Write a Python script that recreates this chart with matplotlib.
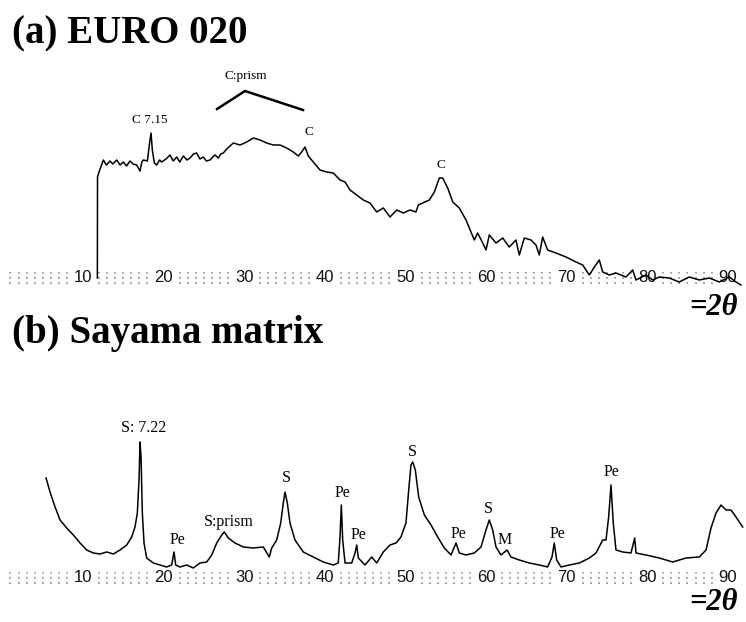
import matplotlib
matplotlib.use("Agg")
import matplotlib.pyplot as plt

# ---- panel (a): EURO 020, 2theta (deg) and intensity (a.u.)
euro_2theta = [11.78, 11.80, 11.90, 12.52, 12.9, 13.35, 13.7, 14.18, 14.6, 15.0,
               15.4, 15.83, 16.2, 16.66, 17.07, 17.3, 17.48, 17.98, 18.31, 18.44,
               18.6, 18.85, 19.14, 19.5, 19.76, 20.3, 20.79, 21.2, 21.62, 22.0,
               22.45, 22.9, 23.28, 23.7, 24.1, 24.5, 24.93, 25.3, 25.76, 26.1,
               26.38, 26.79, 27.1, 27.41, 27.83,
               28.65, 29.48, 30.31, 31.13, 31.96, 32.79, 33.61, 34.44, 35.27, 36.09,
               36.71, 37.13, 37.54, 37.95, 38.57, 39.4, 40.23, 41.05, 41.89, 42.51,
               43.13, 43.96, 44.78, 45.61, 46.44, 47.26, 48.09, 48.92, 49.74, 50.57,
               51.31, 51.6, 52.15, 52.97, 53.59, 54.21, 54.63, 55.25, 55.87, 56.69,
               57.52, 58.14, 58.55, 58.97, 59.59, 60.0, 60.41, 61.24, 62.07, 62.89,
               63.72, 64.13, 64.75, 65.58, 66.2, 66.61, 67.03, 67.65, 68.68, 69.93,
               71.17, 72.0, 72.82, 73.44, 74.06, 74.48, 75.3, 76.13, 77.37, 78.2,
               78.61, 79.85, 80.68, 81.5, 82.74, 83.98, 85.22, 86.46, 87.7, 88.95,
               90.19, 91.02, 91.64]
euro_int = [0, 101, 104, 118, 113, 117, 114, 118, 113, 116,
            112, 117, 114, 113, 107, 116, 118, 117, 138, 145,
            128, 115, 113, 118, 116, 119, 123, 117, 121, 116,
            122, 118, 120, 124, 125, 119, 121, 117, 118, 121,
            123, 120, 124, 125, 129,
            135, 133, 136, 140, 138, 135, 133, 133, 130, 126,
            122, 126, 131, 122, 116, 108, 106, 105, 98, 96,
            88, 83, 78, 75, 66, 70, 61, 68, 65, 68,
            66, 73, 75, 78, 86, 100, 100, 90, 76, 70,
            58, 46, 38, 45, 35, 28, 43, 35, 40, 31,
            38, 23, 40, 38, 33, 23, 41, 28, 25, 21,
            16, 13, 3, 11, 18, 6, 3, 5, 1, 8,
            -2, 3, -2, 1, 0, -4, 1, -2, 0, -4,
            1, -4, -7]

# ---- panel (b): Sayama matrix
sayama_2theta = [5.41, 5.91, 6.53, 7.15, 7.98, 8.80, 9.63, 10.46, 11.28, 12.11,
                 12.94, 13.76, 14.59, 15.42, 16.04, 16.45, 16.74, 16.95, 17.07, 17.20,
                 17.36, 17.57, 17.90, 18.72, 19.55, 20.38, 21.0, 21.29, 21.50, 22.03,
                 22.87, 23.68, 24.52, 25.35, 25.97, 26.59, 27.21, 27.53, 28.03, 28.86,
                 29.89, 31.13, 32.37, 33.11, 33.41, 34.03, 34.53, 34.85, 35.06, 35.35,
                 35.68, 36.30, 37.33, 38.57, 39.81, 41.05, 41.67, 41.89, 42.05, 42.22,
                 42.51, 43.34, 43.75, 43.96, 44.16, 44.99, 45.82, 46.44, 47.26, 48.09,
                 48.83, 49.45, 50.07, 50.41, 50.69, 50.91, 51.23, 51.65, 52.35, 53.18,
                 54.01, 54.83, 55.66, 56.28, 56.69, 57.52, 58.55, 59.38, 60.0, 60.41,
                 60.83, 61.24, 61.86, 62.61, 63.10, 64.13, 65.37, 66.61, 67.65, 68.19,
                 68.47, 68.77, 69.31, 70.33, 71.58, 72.82, 73.65, 74.48, 74.89, 75.22,
                 75.51, 75.79, 76.13, 76.96, 77.99, 78.45, 78.61, 79.85, 81.50, 83.16,
                 84.81, 86.46, 87.30, 87.92, 88.54, 89.16, 89.78, 90.40, 91.02, 91.85]
sayama_int = [100, 86, 71, 58, 50, 43, 35, 28, 25, 24,
              26, 24, 28, 33, 41, 51, 65, 98, 136, 121,
              65, 35, 20, 15, 13, 11, 13, 26, 13, 11,
              13, 10, 15, 16, 23, 35, 43, 46, 40, 35,
              31, 30, 31, 21, 30, 38, 55, 75, 86, 75,
              55, 38, 26, 21, 16, 13, 15, 41, 73, 38,
              15, 15, 25, 33, 20, 13, 21, 15, 26, 33,
              35, 41, 55, 88, 113, 116, 108, 81, 63, 53,
              41, 30, 23, 35, 25, 23, 25, 31, 48, 58,
              48, 31, 23, 28, 21, 18, 15, 13, 11, 21,
              35, 18, 11, 13, 15, 20, 25, 38, 38, 61,
              93, 55, 28, 26, 25, 40, 25, 23, 20, 16,
              20, 21, 28, 50, 65, 73, 68, 68, 61, 51]

# peak labels: (text, 2theta, intensity)
euro_peaks = [("C 7.15", 18.31, 158), ("C:prism", 30.22, 202),
              ("C", 38.04, 146), ("C", 54.42, 113)]
sayama_peaks = [("S: 7.22", 17.57, 150), ("Pe", 21.66, 38), ("S:prism", 28.11, 56),
                ("S", 35.19, 100), ("Pe", 42.13, 85), ("Pe", 44.12, 43),
                ("S", 50.82, 126), ("Pe", 56.53, 44), ("S", 60.25, 69),
                ("M", 62.36, 38), ("Pe", 68.81, 44), ("Pe", 75.63, 106)]
prism_bracket_x = [26.63, 30.1, 37.3]
prism_bracket_y = [169, 187, 168]

tick_labels = [10, 20, 30, 40, 50, 60, 70, 80, 90]

serif = "Liberation Serif"
sans = "Liberation Sans"

fig = plt.figure(figsize=(7.46, 6.22), dpi=100)
ax_a = fig.add_axes([0, 0.5, 1, 0.5])
ax_b = fig.add_axes([0, 0, 1, 0.5])


def draw_axis(ax):
    dots = [d for d in range(1, 92) if min(abs(d - t) for t in tick_labels) > 1]
    ax.vlines(dots, -6, 6, colors="#8a8a8a", linestyles=(0, (1.2, 2.2)), lw=1.1, zorder=1)
    for t in tick_labels:
        ax.text(t, 0, str(t), family=sans, fontsize=12, ha="center", va="center",
                color="#111111", zorder=2)


for ax in (ax_a, ax_b):
    ax.set_xlim(-0.3, 92.26)
    ax.axis("off")
    draw_axis(ax)

ax_a.set_ylim(-33, 278)
ax_b.set_ylim(-44, 267)

ax_a.plot(euro_2theta, euro_int, color="black", lw=1.1, zorder=3)
ax_b.plot(sayama_2theta, sayama_int, color="black", lw=1.1, zorder=3)
ax_a.plot(prism_bracket_x, prism_bracket_y, color="black", lw=1.8)

for txt, x, y in euro_peaks:
    ax_a.text(x, y, txt, family=serif, fontsize=9.5, ha="center", va="center")
for txt, x, y in sayama_peaks:
    ax_b.text(x, y, txt, family=serif, fontsize=11.5, ha="center", va="center")

fig.text(12 / 746, 1 - 43 / 622, "(a) EURO 020", family=serif, weight="bold",
         fontsize=28, ha="left", va="baseline")
fig.text(12 / 746, 1 - 343 / 622, "(b) Sayama matrix", family=serif, weight="bold",
         fontsize=28, ha="left", va="baseline")
for yy in (308, 603):
    fig.text(738 / 746, 1 - yy / 622, "=2θ", family=serif, weight="bold",
             style="italic", fontsize=22, ha="right", va="center")

fig.savefig("out.png", dpi=100)
